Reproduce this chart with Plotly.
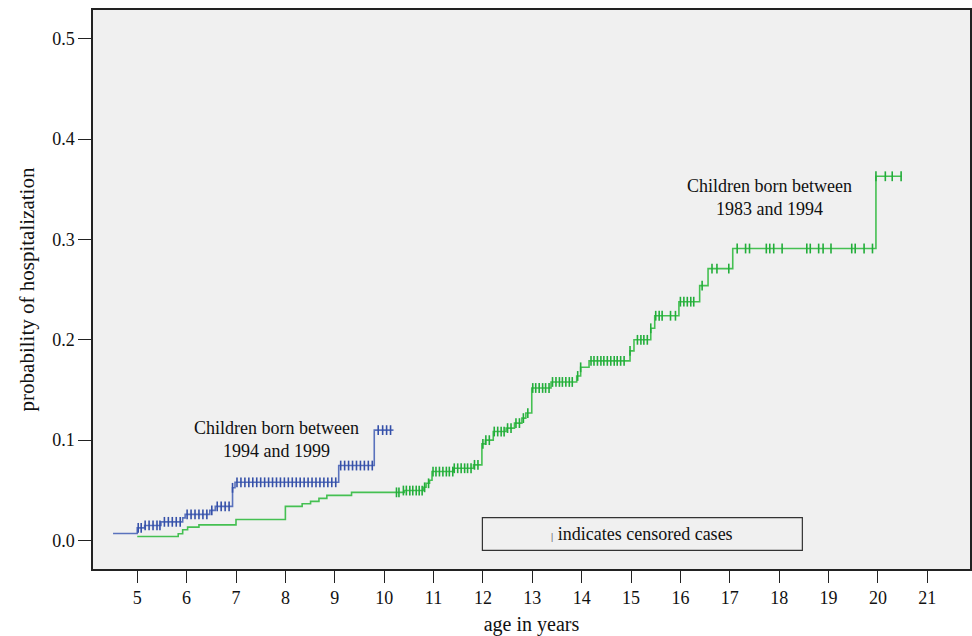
import plotly.graph_objects as go

# ---- Data ----
# Children born 1994-1999 (blue): step curve
blue_age = [4.51, 5.00, 5.15, 5.48, 5.92, 5.97, 6.47, 6.58, 6.93, 6.98, 9.08, 9.80, 10.19]
blue_prob = [0.007, 0.0126, 0.015, 0.0186, 0.0226, 0.026, 0.030, 0.034, 0.0525, 0.058, 0.0747, 0.110, 0.110]
# censored cases (blue)
blue_cens_age = [5.02, 5.08, 5.16, 5.24, 5.32, 5.40, 5.46, 5.55, 5.63, 5.71, 5.79, 5.87,
                 6.01, 6.09, 6.17, 6.25, 6.33, 6.41, 6.51, 6.62, 6.70, 6.78, 6.86, 6.93,
                 7.02, 7.10, 7.18, 7.26, 7.34, 7.42, 7.50, 7.58, 7.66, 7.74, 7.82, 7.90,
                 7.98, 8.06, 8.14, 8.22, 8.30, 8.38, 8.46, 8.54, 8.62, 8.70, 8.78, 8.86,
                 8.94, 9.02, 9.12, 9.20, 9.28, 9.36, 9.44, 9.52, 9.60, 9.68, 9.76,
                 9.88, 9.97, 10.05, 10.13]
blue_cens_prob = [0.0126, 0.0126, 0.015, 0.015, 0.015, 0.015, 0.015, 0.0186, 0.0186, 0.0186, 0.0186, 0.0186,
                  0.026, 0.026, 0.026, 0.026, 0.026, 0.026, 0.030, 0.034, 0.034, 0.034, 0.034, 0.0525,
                  0.058, 0.058, 0.058, 0.058, 0.058, 0.058, 0.058, 0.058, 0.058, 0.058, 0.058, 0.058,
                  0.058, 0.058, 0.058, 0.058, 0.058, 0.058, 0.058, 0.058, 0.058, 0.058, 0.058, 0.058,
                  0.058, 0.058, 0.0747, 0.0747, 0.0747, 0.0747, 0.0747, 0.0747, 0.0747, 0.0747, 0.0747,
                  0.110, 0.110, 0.110, 0.110]

# Children born 1983-1994 (green): step curve
green_age = [5.00, 5.83, 5.92, 6.02, 6.25, 7.00, 8.00, 8.34, 8.51, 8.68, 8.84, 9.34,
             10.41, 10.80, 10.85, 10.92, 10.97, 11.40, 11.81, 11.98, 12.05, 12.21, 12.47,
             12.64, 12.79, 12.87, 12.99, 13.38, 13.90, 13.98, 14.15, 14.98, 15.06, 15.40,
             15.48, 15.97, 16.39, 16.56, 17.06, 19.96, 20.48]
green_prob = [0.004, 0.0067, 0.0107, 0.0133, 0.0156, 0.021, 0.034, 0.0366, 0.039, 0.042, 0.045, 0.048,
              0.0498, 0.053, 0.057, 0.060, 0.0687, 0.072, 0.0754, 0.0963, 0.100, 0.1086, 0.112,
              0.117, 0.122, 0.127, 0.152, 0.158, 0.164, 0.1726, 0.179, 0.189, 0.200, 0.2115,
              0.224, 0.238, 0.254, 0.271, 0.291, 0.363, 0.363]
# censored cases (green)
green_cens_age = [10.25, 10.30, 10.39, 10.45, 10.52, 10.58, 10.65, 10.71, 10.77, 10.82, 10.90,
                  10.99, 11.05, 11.12, 11.19, 11.26, 11.32, 11.39, 11.42, 11.49, 11.56, 11.63,
                  11.69, 11.76, 11.83, 11.90, 12.00, 12.06, 12.13, 12.23, 12.30, 12.37, 12.43,
                  12.50, 12.57, 12.67, 12.74, 12.82, 12.91, 13.01, 13.07, 13.14, 13.21, 13.27,
                  13.34, 13.41, 13.48, 13.55, 13.61, 13.68, 13.75, 13.81, 13.92, 13.98,
                  14.19, 14.25, 14.32, 14.39, 14.45, 14.52, 14.59, 14.66, 14.72, 14.79, 14.86,
                  14.98, 15.13, 15.20, 15.26, 15.33, 15.40, 15.50, 15.57, 15.63, 15.80, 15.90,
                  16.00, 16.07, 16.14, 16.21, 16.27, 16.44, 16.64, 16.74, 16.98,
                  17.15, 17.32, 17.40, 17.74, 17.81, 17.89, 18.06, 18.56, 18.63, 18.80, 18.89,
                  19.05, 19.47, 19.54, 19.72, 19.89, 19.96, 20.15, 20.29, 20.47]
green_cens_prob = [0.048, 0.048, 0.0498, 0.0498, 0.0498, 0.0498, 0.0498, 0.0498, 0.0498, 0.053, 0.057,
                   0.0687, 0.0687, 0.0687, 0.0687, 0.0687, 0.0687, 0.0687, 0.072, 0.072, 0.072, 0.072,
                   0.072, 0.072, 0.0754, 0.0754, 0.0963, 0.100, 0.100, 0.1086, 0.1086, 0.1086, 0.1086,
                   0.112, 0.112, 0.117, 0.117, 0.122, 0.127, 0.152, 0.152, 0.152, 0.152, 0.152,
                   0.152, 0.158, 0.158, 0.158, 0.158, 0.158, 0.158, 0.158, 0.164, 0.1726,
                   0.179, 0.179, 0.179, 0.179, 0.179, 0.179, 0.179, 0.179, 0.179, 0.179, 0.179,
                   0.189, 0.200, 0.200, 0.200, 0.200, 0.2115, 0.224, 0.224, 0.224, 0.224, 0.224,
                   0.238, 0.238, 0.238, 0.238, 0.238, 0.254, 0.271, 0.271, 0.271,
                   0.291, 0.291, 0.291, 0.291, 0.291, 0.291, 0.291, 0.291, 0.291, 0.291, 0.291,
                   0.291, 0.291, 0.291, 0.291, 0.291, 0.363, 0.363, 0.363, 0.363]

x_ticks = list(range(5, 22))
y_ticks = [0.0, 0.1, 0.2, 0.3, 0.4, 0.5]
y_tick_labels = ["0.0", "0.1", "0.2", "0.3", "0.4", "0.5"]

BLUE_LINE = "#5a72bd"
BLUE_MARK = "#3550a8"
GREEN_LINE = "#45c052"
GREEN_MARK = "#22ad3a"
SERIF = "Liberation Serif, Times New Roman, serif"

fig = go.Figure()
fig.add_trace(go.Scatter(x=green_age, y=green_prob, mode="lines", line_shape="hv",
                         line=dict(color=GREEN_LINE, width=1.6), hoverinfo="skip"))
fig.add_trace(go.Scatter(x=green_cens_age, y=green_cens_prob, mode="markers",
                         marker=dict(symbol="line-ns", size=7, line=dict(color=GREEN_MARK, width=1.6))))
fig.add_trace(go.Scatter(x=blue_age, y=blue_prob, mode="lines", line_shape="hv",
                         line=dict(color=BLUE_LINE, width=1.6), hoverinfo="skip"))
fig.add_trace(go.Scatter(x=blue_cens_age, y=blue_cens_prob, mode="markers",
                         marker=dict(symbol="line-ns", size=7, line=dict(color=BLUE_MARK, width=1.6))))

annos = [
    dict(x=7.83, y=0.101, text="Children born between<br>1994 and 1999"),
    dict(x=17.81, y=0.342, text="Children born between<br>1983 and 1994"),
]
for a in annos:
    fig.add_annotation(x=a["x"], y=a["y"], text=a["text"], showarrow=False,
                       font=dict(family=SERIF, size=18, color="#111111"),
                       align="center", xanchor="center", yanchor="middle")

# legend box for censored cases
fig.add_shape(type="rect", x0=11.99, x1=18.47, y0=-0.0099, y1=0.0229,
              line=dict(color="#333333", width=1.2), fillcolor="rgba(0,0,0,0)")
fig.add_annotation(x=15.23, y=0.0065,
                   text="<span style='font-size:11px;color:#333'>|</span> indicates censored cases",
                   showarrow=False, font=dict(family=SERIF, size=18, color="#111111"),
                   xanchor="center", yanchor="middle")

fig.update_layout(
    width=972, height=636,
    margin=dict(l=93, r=2, t=10, b=67, autoexpand=False),
    paper_bgcolor="white", plot_bgcolor="#f0f0f0",
    showlegend=False,
    font=dict(family=SERIF, size=18, color="#111111"),
    xaxis=dict(range=[4.104, 21.865], tickmode="array", tickvals=x_ticks,
               ticktext=[str(v) for v in x_ticks], automargin=False,
               ticks="outside", ticklen=12, tickwidth=1.2, tickcolor="#222",
               showgrid=False, zeroline=False,
               showline=True, mirror=True, linecolor="#222", linewidth=1.5,
               title=dict(text="age in years", font=dict(size=20), standoff=10),
               tickfont=dict(size=18)),
    yaxis=dict(range=[-0.0284, 0.5287], tickmode="array", tickvals=y_ticks,
               ticktext=y_tick_labels, automargin=False,
               ticks="outside", ticklen=13, tickwidth=1.2, tickcolor="#222",
               showgrid=False, zeroline=False,
               showline=True, mirror=True, linecolor="#222", linewidth=1.5,
               title=dict(text="probability of hospitalization", font=dict(size=21), standoff=12),
               tickfont=dict(size=18)),
)

fig.write_html(
    "out.html",
    config={"displayModeBar": False},
    post_script="document.body.style.margin='0';document.body.style.overflow='hidden';",
)
